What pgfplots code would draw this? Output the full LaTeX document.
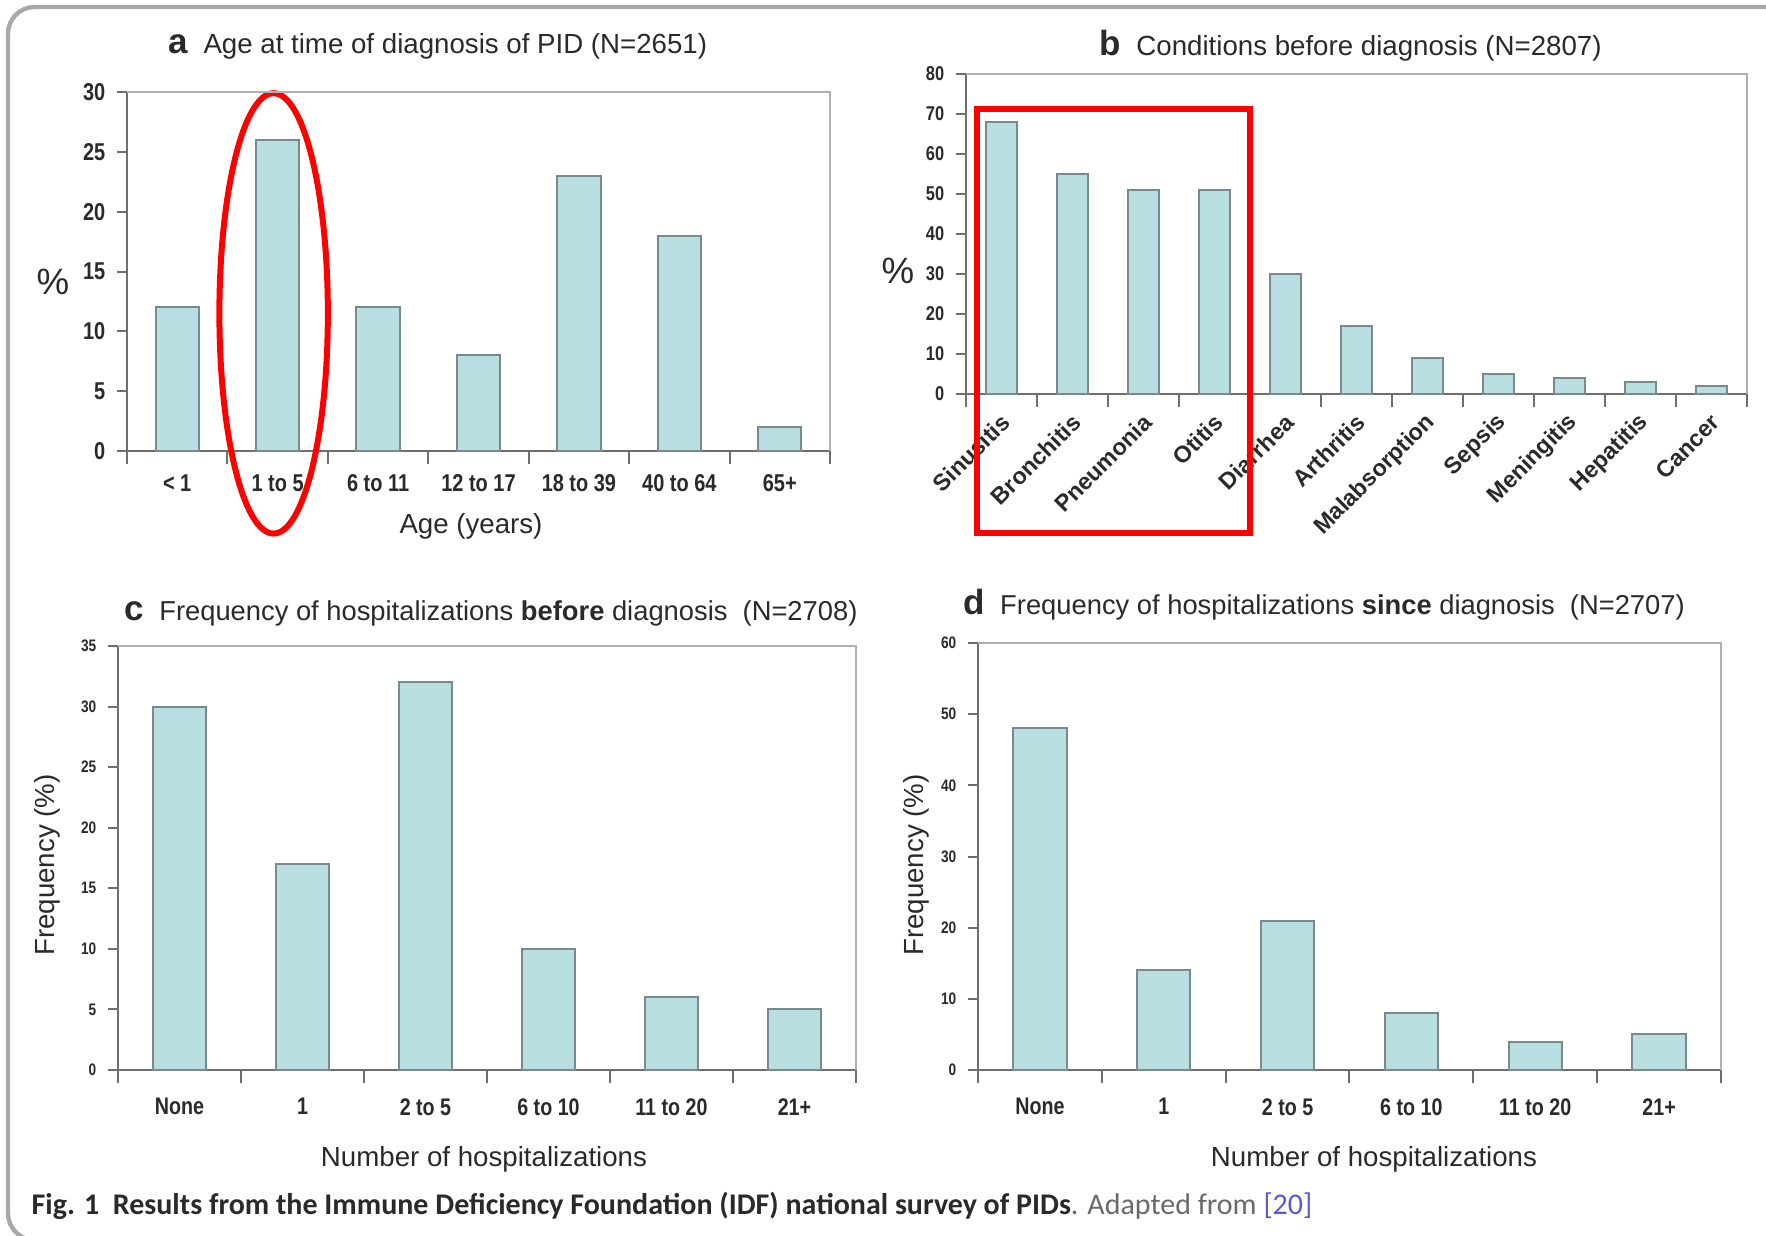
\documentclass[border=0pt]{standalone}
\usepackage{fontspec}
\setmainfont{Liberation Sans}
\newfontfamily\condfont[FakeStretch=0.82]{Liberation Sans}
\newfontfamily\capfont{Carlito}
\usepackage{pgfplots}
\pgfplotsset{compat=1.18}
\definecolor{barfill}{HTML}{B8DEE1}
\definecolor{baredge}{HTML}{7A8A8C}
\definecolor{axisgray}{HTML}{6E6E6E}
\definecolor{framegray}{HTML}{A8A8A8}
\definecolor{boxgray}{HTML}{B0B0B0}
\definecolor{txt}{HTML}{2A2A2A}
\definecolor{refblue}{HTML}{5A5ACF}
\definecolor{capgray}{HTML}{6A6A6A}

\pgfplotsset{
 barstyle/.style={fill=barfill, draw=baredge, line width=0.6pt},
 panel/.style={
  scale only axis, ybar, bar width=0.43, clip=false,
  axis x line*=bottom, axis y line*=left,
  axis line style={draw=axisgray, line width=0.7pt, -},
  ymin=0, xmin=-0.5,
  tick align=outside,
  major x tick style={draw=none},
  minor x tick style={draw=axisgray, line width=0.6pt},
  ytick style={draw=axisgray, line width=0.6pt},
  major tick length=3pt, minor tick length=4pt,
  /pgf/number format/assume math mode=true,
  ticklabel style={text=txt},
  after end axis/.append code={\draw[boxgray, line width=0.7pt] (rel axis cs:0,1) -- (rel axis cs:1,1) -- (rel axis cs:1,0);},
 },
}

\begin{document}
\begin{tikzpicture}[x=0.3pt, y=0.3pt]
\useasboundingbox (0,0) rectangle (1766,1236);
\fill[white] (0,0) rectangle (1766,1236);
\draw[framegray, line width=1.3pt, rounded corners=8pt] (1770,1229) -- (8,1229) -- (8,-4) -- (30,-4);

% Panel a
\begin{axis}[panel, at={(38.1pt,235.5pt)}, anchor=south west, width=210.9pt, height=107.7pt,
  xmax=6.5, ymax=30, ytick={0,5,...,30},
  xtick={0,...,6}, minor xtick={-0.5,0.5,...,6.5},
  xticklabels={< 1, 1 to 5, 6 to 11, 12 to 17, 18 to 39, 40 to 64, 65+},
  ticklabel style={font=\condfont\bfseries\fontsize{7.3}{8}\selectfont},
  xticklabel style={yshift=-0.6pt}]
\addplot[barstyle] coordinates {(0,12) (1,26) (2,12) (3,8) (4,23) (5,18) (6,2)};
\draw[red, line width=1.8pt] (axis cs:0.96,11.5) ellipse [x radius=0.54, y radius=18.4];
\end{axis}

% Panel b
\begin{axis}[panel, at={(289.8pt,252.6pt)}, anchor=south west, width=234.3pt, height=96pt,
  xmax=10.5, ymax=80, ytick={0,10,...,80},
  xtick={0,...,10}, minor xtick={-0.5,0.5,...,10.5},
  xticklabels={Sinusitis, Bronchitis, Pneumonia, Otitis, Diarrhea, Arthritis, Malabsorption, Sepsis, Meningitis, Hepatitis, Cancer},
  yticklabel style={font=\condfont\bfseries\fontsize{6}{7}\selectfont},
  xticklabel style={font=\bfseries\fontsize{7}{8}\selectfont, rotate=45, anchor=east, xshift=1.3pt, yshift=-4pt}]
\addplot[barstyle] coordinates {(0,68) (1,55) (2,51) (3,51) (4,30) (5,17) (6,9) (7,5) (8,4) (9,3) (10,2)};
\draw[red, line width=1.8pt] (axis cs:-0.35,71.25) rectangle (axis cs:3.5,-34.75);
\end{axis}

% Panel c
\begin{axis}[panel, at={(35.4pt,49.8pt)}, anchor=south west, width=221.4pt, height=127.2pt,
  xmax=5.5, ymax=35, ytick={0,5,...,35},
  xtick={0,...,5}, minor xtick={-0.5,0.5,...,5.5},
  xticklabels={None, 1, 2 to 5, 6 to 10, 11 to 20, 21+},
  yticklabel style={font=\condfont\bfseries\fontsize{5}{6}\selectfont},
  xticklabel style={font=\condfont\bfseries\fontsize{7.2}{8}\selectfont, yshift=-2pt}]
\addplot[barstyle] coordinates {(0,30) (1,17) (2,32) (3,10) (4,6) (5,5)};
\end{axis}

% Panel d
\begin{axis}[panel, at={(293.4pt,49.8pt)}, anchor=south west, width=222.9pt, height=128.1pt,
  xmax=5.5, ymax=60, ytick={0,10,...,60},
  xtick={0,...,5}, minor xtick={-0.5,0.5,...,5.5},
  xticklabels={None, 1, 2 to 5, 6 to 10, 11 to 20, 21+},
  yticklabel style={font=\condfont\bfseries\fontsize{5}{6}\selectfont},
  xticklabel style={font=\condfont\bfseries\fontsize{7.2}{8}\selectfont, yshift=-2pt}]
\addplot[barstyle] coordinates {(0,48) (1,14) (2,21) (3,8) (4,4) (5,5)};
\end{axis}

% Titles
\begin{scope}[every node/.style={text=txt, inner sep=0pt}]
\node[anchor=west, font=\fontsize{8.3}{10}\selectfont] at (168,1190) {{\bfseries\fontsize{10.5}{12}\selectfont a}\ \ Age at time of diagnosis of PID (N=2651)};
\node[anchor=west, font=\fontsize{8.3}{10}\selectfont] at (1099,1190) {{\bfseries\fontsize{10.5}{12}\selectfont b}\ \ Conditions before diagnosis (N=2807)};
\node[anchor=west, font=\fontsize{8.2}{10}\selectfont] at (124,623) {{\bfseries\fontsize{10.5}{12}\selectfont c}\ \ Frequency of hospitalizations \textbf{before} diagnosis\ \ (N=2708)};
\node[anchor=west, font=\fontsize{8.2}{10}\selectfont] at (963,631) {{\bfseries\fontsize{10.5}{12}\selectfont d}\ \ Frequency of hospitalizations \textbf{since} diagnosis\ \ (N=2707)};
% axis labels
\node[font=\fontsize{11}{12}\selectfont] at (53,954) {\%};
\node[font=\fontsize{8.3}{10}\selectfont] at (471,710) {Age (years)};
\node[font=\fontsize{11}{12}\selectfont] at (898,965) {\%};
\node[font=\fontsize{8.3}{10}\selectfont, rotate=90] at (47,371) {Frequency (\%)};
\node[font=\fontsize{8.3}{10}\selectfont] at (484,77) {Number of hospitalizations};
\node[font=\fontsize{8.3}{10}\selectfont, rotate=90] at (916,371) {Frequency (\%)};
\node[font=\fontsize{8.3}{10}\selectfont] at (1374,77) {Number of hospitalizations};
% caption
\node[anchor=west, font=\capfont\fontsize{9}{11}\selectfont] at (31,30) {\textbf{Fig. 1}\ \ \textbf{Results from the Immune Deficiency Foundation (IDF) national survey of PIDs}{\color{capgray}. Adapted from }{\color{refblue}[20]}};
\end{scope}
\end{tikzpicture}
\end{document}
